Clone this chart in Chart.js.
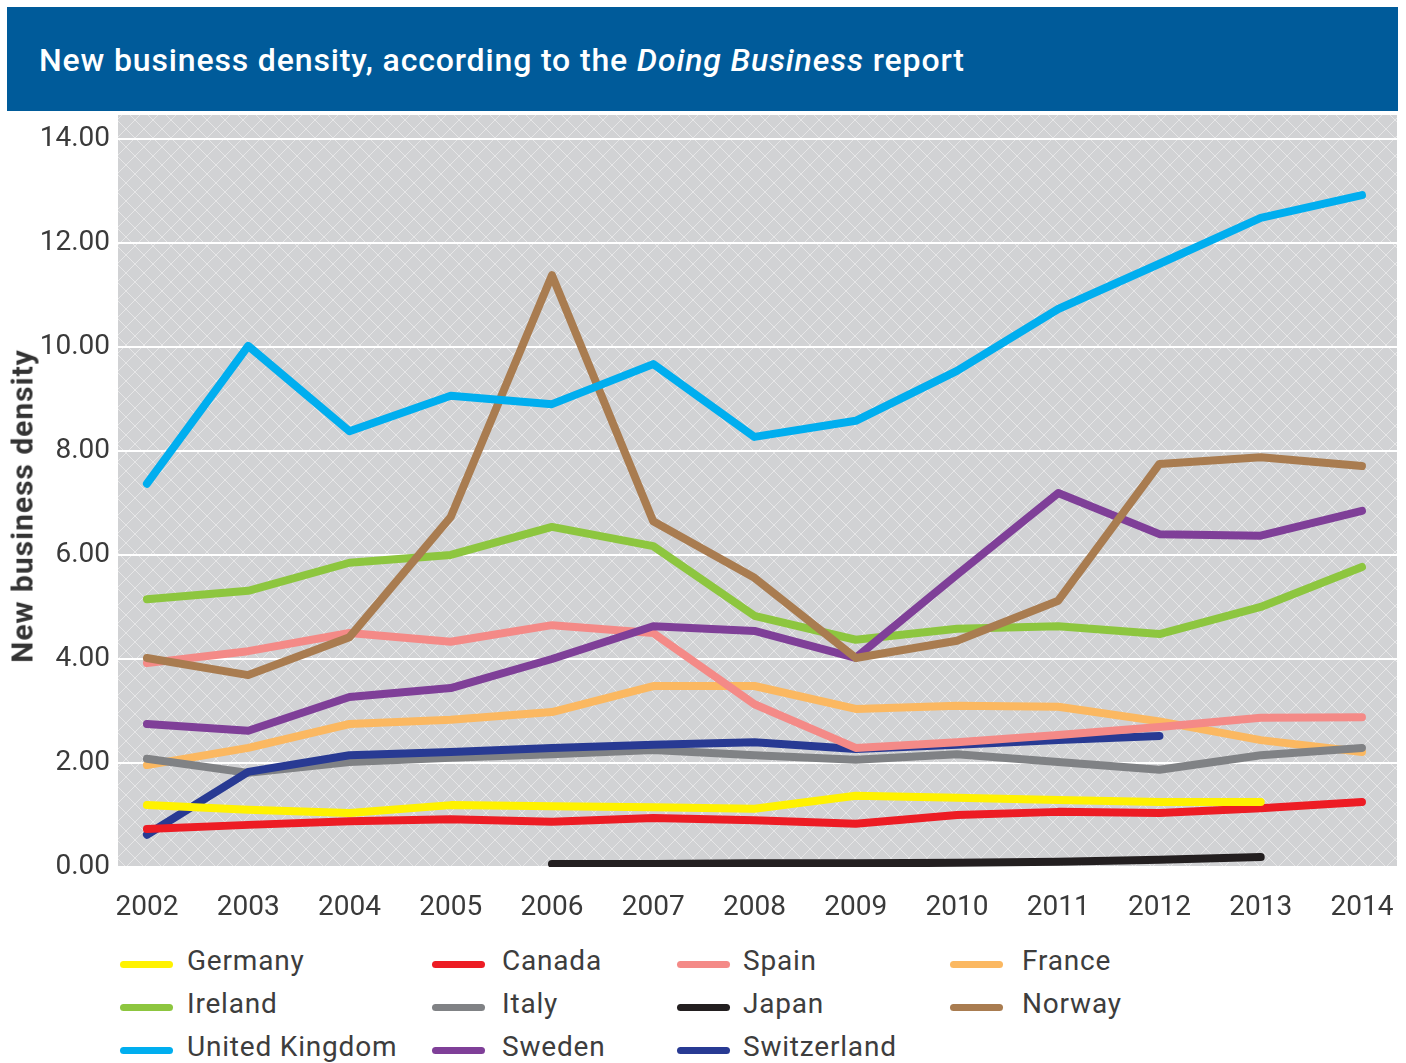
<!DOCTYPE html>
<html>
<head>
<meta charset="utf-8">
<script src="https://cdn.jsdelivr.net/npm/chart.js@4.4.1/dist/chart.umd.min.js"></script>
<style>
  body { margin: 0; background: #fff; width: 1406px; height: 1063px; overflow: hidden; position: relative; font-family: Roboto, sans-serif; }
  #banner { position: absolute; left: 7px; top: 7px; width: 1391px; height: 104px; background: #005b9a; }
  #banner span.t { position: absolute; left: 32px; top: 34px; color: #fff; font-size: 32px; font-weight: 500; letter-spacing: 0.85px; white-space: nowrap; }
  #wrap { position: absolute; left: 0; top: 111px; width: 1406px; height: 820px; }
  #ytitle { position: absolute; left: 22px; top: 506px; width: 0; height: 0; }
  #ytitle span { position: absolute; transform: translate(-50%, -50%) rotate(-90deg); white-space: nowrap;
                 font-size: 30px; font-weight: 700; letter-spacing: 1px; color: #333; }
  #legend { position: absolute; left: 0; top: 940px; width: 1406px; height: 123px; }
  .sw { position: absolute; width: 53px; height: 7px; border-radius: 3.5px; }
  .lb { position: absolute; font-size: 28px; color: #3d3d3d; white-space: nowrap; letter-spacing: 0.8px; }
</style>
</head>
<body>
<div id="banner"><span class="t">New business density, according to the <em>Doing Business</em> report</span></div>
<div id="wrap"><canvas id="c"></canvas></div>
<div id="ytitle"><span>New business density</span></div>
<div id="legend"></div>
<script>
const years = [2002, 2003, 2004, 2005, 2006, 2007, 2008, 2009, 2010, 2011, 2012, 2013, 2014];
const yTicks = [0, 2, 4, 6, 8, 10, 12, 14];

const germany     = [1.19, 1.10, 1.04, 1.19, 1.17, 1.15, 1.12, 1.37, 1.33, 1.29, 1.25, 1.25, null];
const canada      = [0.73, 0.81, 0.88, 0.92, 0.87, 0.94, 0.90, 0.83, 1.00, 1.06, 1.04, 1.13, 1.25];
const spain       = [3.92, 4.15, 4.50, 4.33, 4.65, 4.50, 3.13, 2.29, 2.40, 2.54, 2.69, 2.87, 2.88];
const france      = [1.96, 2.29, 2.75, 2.83, 2.98, 3.48, 3.48, 3.04, 3.10, 3.08, 2.80, 2.44, 2.21];
const ireland     = [5.15, 5.31, 5.85, 6.00, 6.54, 6.17, 4.83, 4.37, 4.58, 4.63, 4.48, 5.00, 5.77];
const italy       = [2.08, 1.81, 2.02, 2.10, 2.17, 2.25, 2.15, 2.06, 2.17, 2.02, 1.87, 2.15, 2.29];
const japan       = [null, null, null, null, 0.06, 0.06, 0.07, 0.07, 0.08, 0.10, 0.14, 0.19, null];
const norway      = [4.02, 3.69, 4.42, 6.73, 11.38, 6.65, 5.56, 4.02, 4.35, 5.12, 7.75, 7.88, 7.71];
const uk          = [7.37, 10.02, 8.38, 9.06, 8.90, 9.67, 8.27, 8.58, 9.54, 10.73, 11.60, 12.48, 12.92];
const sweden      = [2.75, 2.62, 3.27, 3.44, 4.00, 4.63, 4.54, 4.02, 5.62, 7.19, 6.40, 6.37, 6.85];
const switzerland = [0.62, 1.83, 2.15, 2.21, 2.29, 2.35, 2.40, 2.27, 2.35, 2.44, 2.52, null, null];

const series = [
  { label: 'Germany', data: germany, color: '#fff200', order: 4 },
  { label: 'Canada', data: canada, color: '#ed1c24', order: 5 },
  { label: 'Spain', data: spain, color: '#f48a87', order: 6 },
  { label: 'France', data: france, color: '#fbb861', order: 10 },
  { label: 'Ireland', data: ireland, color: '#8dc63f', order: 7 },
  { label: 'Italy', data: italy, color: '#808285', order: 9 },
  { label: 'Japan', data: japan, color: '#231f20', order: 11 },
  { label: 'Norway', data: norway, color: '#a97c50', order: 2 },
  { label: 'United Kingdom', data: uk, color: '#00aeef', order: 1 },
  { label: 'Sweden', data: sweden, color: '#7f3f98', order: 3 },
  { label: 'Switzerland', data: switzerland, color: '#283a93', order: 8 }
];

// gray crosshatch behind the plot
function makePattern() {
  const s = 18;
  const p = document.createElement('canvas');
  p.width = s; p.height = s;
  const g = p.getContext('2d');
  g.fillStyle = '#d1d2d4';
  g.fillRect(0, 0, s, s);
  g.strokeStyle = 'rgba(255,255,255,0.45)';
  g.lineWidth = 1;
  g.beginPath();
  g.moveTo(0, 0); g.lineTo(s, s);
  g.moveTo(s, 0); g.lineTo(0, s);
  g.stroke();
  return g.createPattern(p, 'repeat');
}

const plotBg = {
  id: 'plotBg',
  beforeDraw(chart) {
    const { ctx, chartArea: a } = chart;
    ctx.save();
    ctx.fillStyle = makePattern();
    ctx.fillRect(a.left, a.top, a.right - a.left, a.bottom - a.top);
    ctx.restore();
  }
};

const font = { family: 'Roboto', size: 28 };

new Chart(document.getElementById('c'), {
  type: 'line',
  data: {
    datasets: series.map(s => ({
      label: s.label,
      data: years.map((y, i) => ({ x: y, y: s.data[i] })),
      borderColor: s.color,
      backgroundColor: s.color,
      borderWidth: 8,
      borderCapStyle: 'round',
      borderJoinStyle: 'round',
      pointRadius: 0,
      tension: 0,
      spanGaps: false,
      order: s.order
    }))
  },
  options: {
    responsive: true,
    maintainAspectRatio: false,
    devicePixelRatio: 1,
    animation: false,
    layout: { padding: { top: 4, right: 9, left: 0, bottom: 0 } },
    plugins: { legend: { display: false }, tooltip: { enabled: false } },
    scales: {
      x: {
        type: 'linear',
        min: 2001.714,
        max: 2014.346,
        afterBuildTicks: sc => { sc.ticks = years.map(v => ({ value: v })); },
        afterFit: sc => { sc.height = 64; sc.paddingLeft = 0; sc.paddingRight = 0; },
        grid: { display: false },
        border: { display: false },
        ticks: { font, color: '#3a3a3a', padding: 16, maxRotation: 0, callback: v => String(v) }
      },
      y: {
        min: 0,
        max: 14.46,
        afterBuildTicks: sc => { sc.ticks = yTicks.map(v => ({ value: v })); },
        afterFit: sc => { sc.width = 118; sc.paddingTop = 0; sc.paddingBottom = 0; },
        grid: { color: '#ffffff', lineWidth: 2, drawTicks: false },
        border: { display: false },
        ticks: { font, color: '#3a3a3a', padding: 8, callback: v => v.toFixed(2) }
      }
    }
  },
  plugins: [plotBg]
});

// legend, 4 columns, 3 rows
const swatchX = [120, 432, 677, 950];
const textX = [187, 502, 743, 1022];
const rowY = [0, 43, 86];
const leg = document.getElementById('legend');
series.forEach((s, i) => {
  const c = i % 4, r = Math.floor(i / 4);
  const sw = document.createElement('div');
  sw.className = 'sw';
  sw.style.left = swatchX[c] + 'px';
  sw.style.top = (rowY[r] + 20.5) + 'px';
  sw.style.background = s.color;
  leg.appendChild(sw);
  const lb = document.createElement('div');
  lb.className = 'lb';
  lb.style.left = textX[c] + 'px';
  lb.style.top = (rowY[r] + 4) + 'px';
  lb.textContent = s.label;
  leg.appendChild(lb);
});
</script>
</body>
</html>
